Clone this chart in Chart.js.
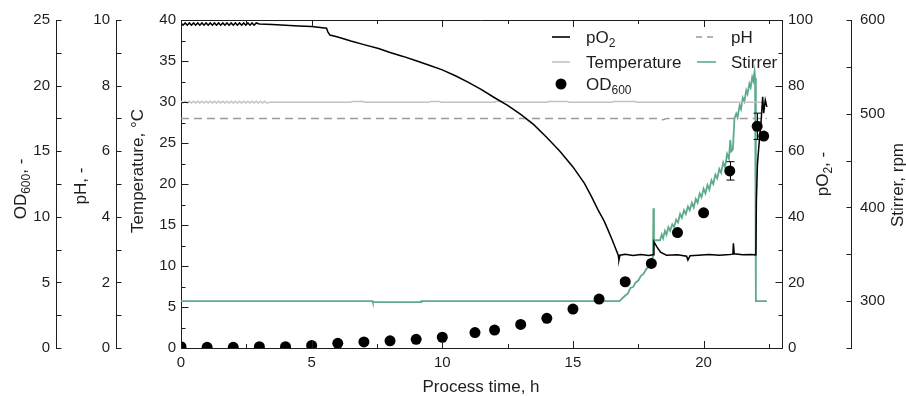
<!DOCTYPE html>
<html>
<head>
<meta charset="utf-8">
<title>Batch fermentation – online signals</title>
<script src="https://cdn.jsdelivr.net/npm/chart.js@4.4.1/dist/chart.umd.min.js"></script>
<style>
  html, body { margin: 0; padding: 0; background: #fff; }
  #chart { display: block; }
</style>
</head>
<body>
<canvas id="chart" width="906" height="396"></canvas>
<script>
// offline samples: OD600 with standard deviation
var odTime  = [0, 1, 2, 3, 4, 5, 6, 7, 8, 9, 10, 11.25, 12, 13, 14, 15, 16, 17, 18, 19, 20, 21, 22.05, 22.3];
var odValue = [0.1, 0.05, 0.05, 0.1, 0.1, 0.2, 0.36, 0.46, 0.55, 0.66, 0.82, 1.18, 1.37, 1.8, 2.26, 2.97, 3.73, 5.05, 6.45, 8.8, 10.3, 13.5, 16.9, 16.15];
var odError = [0, 0, 0, 0, 0, 0, 0, 0, 0, 0, 0, 0, 0, 0, 0, 0, 0, 0, 0, 0, 0, 0.7, 1.0, 0];

// dissolved oxygen, %
var pO2Time = [
  0, 0.08, 0.16, 0.24, 0.32, 0.40, 0.48, 0.56, 0.64, 0.72,
  0.80, 0.88, 0.96, 1.04, 1.12, 1.20, 1.28, 1.36, 1.44, 1.52,
  1.60, 1.68, 1.76, 1.84, 1.92, 2.00, 2.08, 2.16, 2.24, 2.32,
  2.40, 2.48, 2.56, 2.64, 2.72, 2.80, 2.88,
  3.0, 3.5, 4.0, 4.5, 5.0, 5.57, 5.62, 5.7, 6.0, 6.5,
  7.0, 7.56, 8.0, 8.5, 9.0, 9.5, 10.0, 10.5, 11.0, 11.5,
  12.0, 12.5, 13.0, 13.5, 14.0, 14.5, 15.0, 15.44, 15.7, 15.96,
  16.2, 16.34, 16.5, 16.73, 16.76, 16.8, 17.0, 17.3, 17.6, 17.9,
  18.07, 18.1, 18.2, 18.35, 18.58, 19.0, 19.35, 19.4, 19.48, 19.8,
  20.2, 20.6, 21.0, 21.12, 21.14, 21.17, 21.5, 21.8, 22.0, 22.02,
  22.06, 22.12, 22.2, 22.26, 22.3, 22.36, 22.42
];
var pO2Value = [
  99.1, 98.4, 99.1, 98.4, 99.1, 98.4, 99.1, 98.4, 99.1, 98.4,
  99.1, 98.4, 99.1, 98.4, 99.1, 98.4, 99.1, 98.4, 99.1, 98.4,
  99.1, 98.4, 99.1, 98.4, 99.1, 98.4, 99.1, 98.4, 99.1, 98.4,
  99.1, 98.4, 99.1, 98.4, 99.1, 98.4, 99.1,
  98.8, 98.6, 98.4, 98.2, 98.0, 97.5, 96.4, 95.4, 94.8, 93.6,
  92.5, 91.3, 90.1, 88.9, 87.6, 86.2, 84.8, 83.0, 81.0, 78.8,
  76.3, 74.0, 71.2, 68.1, 64.2, 60.0, 55.2, 50.2, 46.3, 42.1,
  38.6, 36.0, 33.0, 28.4, 26.8, 28.3, 28.6, 28.2, 28.5, 28.2,
  28.4, 32.4, 31.0, 29.2, 28.3, 28.4, 28.0, 26.8, 28.1, 28.3,
  28.5, 28.3, 28.5, 28.6, 31.9, 28.7, 28.4, 28.5, 28.4, 45,
  56, 62, 69, 76.6, 71.6, 75.6, 73.5
];

// temperature, °C
var tempTime = [
  0, 0.08, 0.16, 0.24, 0.32, 0.40, 0.48, 0.56, 0.64, 0.72,
  0.80, 0.88, 0.96, 1.04, 1.12, 1.20, 1.28, 1.36, 1.44, 1.52,
  1.60, 1.68, 1.76, 1.84, 1.92, 2.00, 2.08, 2.16, 2.24, 2.32,
  2.40, 2.48, 2.56, 2.64, 2.72, 2.80, 2.88, 2.96, 3.04, 3.12,
  3.20, 3.28,
  3.4, 6.5, 6.55, 7.0, 7.05, 9.5, 9.55, 9.9, 9.95, 12.0,
  12.05, 12.5, 12.55, 14.0, 14.05, 14.8, 14.85, 16.5, 16.55, 17.4,
  17.45, 22.42
];
var tempValue = [
  30.1, 29.88, 30.1, 29.88, 30.1, 29.88, 30.1, 29.88, 30.1, 29.88,
  30.1, 29.88, 30.1, 29.88, 30.1, 29.88, 30.1, 29.88, 30.1, 29.88,
  30.1, 29.88, 30.1, 29.88, 30.1, 29.88, 30.1, 29.88, 30.1, 29.88,
  30.1, 29.88, 30.1, 29.88, 30.1, 29.88, 30.1, 29.88, 30.1, 29.88,
  30.1, 29.88,
  29.97, 29.97, 30.05, 30.05, 29.97, 29.97, 30.07, 30.07, 29.97, 29.97,
  30.06, 30.06, 29.97, 29.97, 30.05, 30.05, 29.97, 29.97, 30.05, 30.05,
  29.97, 29.97
];

// pH
var pHTime  = [0, 18.2, 18.3, 18.45, 18.6, 22.42];
var pHValue = [7.0, 7.0, 6.97, 6.96, 7.0, 7.0];

// stirrer speed, rpm
var stirTime = [
  0, 7.33, 7.34, 9.19, 9.2, 16.78, 17.0, 17.1, 17.2, 17.3,
  17.4, 17.5, 17.6, 17.7, 17.8, 17.9, 18.0, 18.06, 18.08, 18.1,
  18.33, 18.4, 18.45, 18.52, 18.58, 18.65, 18.72, 18.8, 18.87, 18.95,
  19.02, 19.1, 19.17, 19.25, 19.32, 19.4, 19.47, 19.55, 19.62, 19.7,
  19.77, 19.85, 19.92, 20.0, 20.07, 20.15, 20.22, 20.3, 20.37, 20.45,
  20.52, 20.6, 20.67, 20.75, 20.82, 20.9, 20.97, 21.02, 21.06, 21.12,
  21.18, 21.25, 21.3, 21.38, 21.43, 21.5, 21.56, 21.63, 21.68, 21.75,
  21.8, 21.86, 21.9, 21.95, 21.97, 22.0, 22.42
];
var stirValue = [
  300, 300, 299, 299, 300, 300, 306, 308, 314, 315,
  320, 322, 327, 329, 334, 337, 343, 347, 399, 365,
  365, 371, 367, 375, 371, 379, 375, 382, 379, 387,
  384, 393, 389, 397, 393, 401, 397, 405, 400, 409,
  405, 415, 411, 420, 415, 424, 419, 429, 425, 435,
  431, 441, 437, 448, 443, 457, 452, 472, 460, 462,
  495, 500, 496, 509, 505, 517, 513, 525, 521, 532,
  528, 539, 535, 545, 538, 300, 300
];

// axis ranges and tick steps
var xRange = [0, 23],      xMinor = 2.5, xMajor = 5;
var tempRange = [0, 40],   tempMinor = 2.5, tempMajor = 5;
var odRange = [0, 25],     odMinor = 2.5, odMajor = 5;
var pHRange = [0, 10],     pHMinor = 1, pHMajor = 2;
var pO2Range = [0, 100],   pO2Minor = 10, pO2Major = 20;
var stirRange = [250, 600], stirMinor = 50, stirMajor = 100;

var INK = '#1e1e1e';
var FONT = '"Liberation Sans", Arial, sans-serif';
var GREEN = '#5dab8a';
var LIGHT = '#c2c2c2';
var DASHED = '#9a9a9a';

function pairs(xs, ys) {
  return xs.map(function (x, i) { return { x: x, y: ys[i] }; });
}

function onStep(v, step) {
  var q = v / step;
  return Math.abs(q - Math.round(q)) < 1e-6;
}

function yScale(pos, weight, range, minor, major, width, pad) {
  return {
    type: 'linear',
    position: pos,
    weight: weight,
    min: range[0],
    max: range[1],
    grid: { drawOnChartArea: false, drawTicks: false },
    border: { display: true, color: INK, width: 1 },
    ticks: {
      stepSize: minor,
      autoSkip: false,
      padding: pad,
      color: INK,
      font: { family: FONT, size: 15 },
      callback: function (v) { return onStep(v, major) ? String(v) : ''; }
    },
    afterFit: function (s) { s.width = width; }
  };
}

// tick marks point into the plot, major ones a bit longer
var tickSpec = {
  x:   { major: xMajor,    dir: -1, long: 7, short: 4 },
  yT:  { major: tempMajor, dir: 1,  long: 7, short: 4 },
  yOD: { major: odMajor,   dir: 1,  long: 5, short: 5 },
  yPH: { major: pHMajor,   dir: 1,  long: 5, short: 5 },
  yO2: { major: pO2Major,  dir: -1, long: 7, short: 4 },
  yS:  { major: stirMajor, dir: -1, long: 5, short: 5 }
};

function richText(ctx, parts, x, y, angle, align) {
  ctx.save();
  ctx.translate(x, y);
  ctx.rotate(angle);
  var widths = parts.map(function (p) {
    ctx.font = (p.sub ? 12 : 17) + 'px ' + FONT;
    return ctx.measureText(p.text).width;
  });
  var total = widths.reduce(function (a, b) { return a + b; }, 0);
  var cx = align === 'center' ? -total / 2 : 0;
  ctx.fillStyle = INK;
  ctx.textAlign = 'left';
  ctx.textBaseline = 'alphabetic';
  parts.forEach(function (p, i) {
    ctx.font = (p.sub ? 12 : 17) + 'px ' + FONT;
    ctx.fillText(p.text, cx, p.sub ? 10 : 6);
    cx += widths[i];
  });
  ctx.restore();
}

var framePlugin = {
  id: 'frame',
  afterDatasetsDraw: function (chart) {
    var ctx = chart.ctx;
    var xs = chart.scales.x, ys = chart.scales.yOD;
    // OD error bars
    ctx.save();
    ctx.strokeStyle = '#000';
    ctx.lineWidth = 1;
    odTime.forEach(function (t, i) {
      if (!odError[i]) return;
      var px = Math.round(xs.getPixelForValue(t)) + 0.5;
      var top = ys.getPixelForValue(odValue[i] + odError[i]);
      var bot = ys.getPixelForValue(odValue[i] - odError[i]);
      ctx.beginPath();
      ctx.moveTo(px, top); ctx.lineTo(px, bot);
      ctx.moveTo(px - 4, top); ctx.lineTo(px + 4, top);
      ctx.moveTo(px - 4, bot); ctx.lineTo(px + 4, bot);
      ctx.stroke();
    });
    ctx.restore();
  },
  afterDraw: function (chart) {
    var ctx = chart.ctx, area = chart.chartArea;
    ctx.save();
    ctx.strokeStyle = INK;
    ctx.lineWidth = 1;
    ctx.beginPath();
    // top edge of the frame
    var topY = Math.round(area.top) + 0.5;
    ctx.moveTo(area.left, topY);
    ctx.lineTo(area.right, topY);
    Object.keys(tickSpec).forEach(function (id) {
      var sc = chart.scales[id], spec = tickSpec[id];
      sc.ticks.forEach(function (tk) {
        var len = onStep(tk.value, spec.major) ? spec.long : spec.short;
        var p = Math.round(sc.getPixelForValue(tk.value)) + 0.5;
        if (id === 'x') {
          ctx.moveTo(p, sc.top); ctx.lineTo(p, sc.top - len);
          ctx.moveTo(p, area.top); ctx.lineTo(p, area.top + len);
        } else {
          var x0 = Math.round(sc.position === 'left' ? sc.right : sc.left) + 0.5;
          ctx.moveTo(x0, p); ctx.lineTo(x0 + spec.dir * len, p);
        }
      });
    });
    ctx.stroke();

    // axis titles
    var up = -Math.PI / 2;
    richText(ctx, [{ text: 'OD' }, { text: '600', sub: true }, { text: ', -' }], 20, 189, up, 'center');
    richText(ctx, [{ text: 'pH, -' }], 80, 186, up, 'center');
    richText(ctx, [{ text: 'Temperature, °C' }], 137, 171, up, 'center');
    richText(ctx, [{ text: 'pO' }, { text: '2', sub: true }, { text: ', -' }], 822, 174, up, 'center');
    richText(ctx, [{ text: 'Stirrer, rpm' }], 897, 185, up, 'center');
    richText(ctx, [{ text: 'Process time, h' }], 481, 386, 0, 'center');

    // legend
    function sample(x1, x2, y, color, dash) {
      ctx.save();
      ctx.strokeStyle = color;
      ctx.lineWidth = 1.6;
      ctx.setLineDash(dash || []);
      ctx.beginPath();
      ctx.moveTo(x1, y); ctx.lineTo(x2, y);
      ctx.stroke();
      ctx.restore();
    }
    sample(552, 570, 37, '#000');
    richText(ctx, [{ text: 'pO' }, { text: '2', sub: true }], 586, 37, 0, 'left');
    sample(696, 717, 37, DASHED, [6, 5]);
    richText(ctx, [{ text: 'pH' }], 731, 37, 0, 'left');
    sample(552, 570, 62, LIGHT);
    richText(ctx, [{ text: 'Temperature' }], 586, 62, 0, 'left');
    sample(697, 716, 62, GREEN);
    richText(ctx, [{ text: 'Stirrer' }], 731, 62, 0, 'left');
    ctx.fillStyle = '#000';
    ctx.beginPath();
    ctx.arc(561, 84, 5.5, 0, Math.PI * 2);
    ctx.fill();
    richText(ctx, [{ text: 'OD' }, { text: '600', sub: true }], 586, 84, 0, 'left');
    ctx.restore();
  }
};

var ctx = document.getElementById('chart').getContext('2d');
new Chart(ctx, {
  type: 'line',
  data: {
    datasets: [
      {
        label: 'OD600',
        data: pairs(odTime, odValue),
        yAxisID: 'yOD',
        showLine: false,
        pointRadius: 5.5,
        pointBackgroundColor: '#000',
        pointBorderWidth: 0
      },
      {
        label: 'pO2',
        data: pairs(pO2Time, pO2Value),
        yAxisID: 'yO2',
        borderColor: '#000',
        borderWidth: 1.5,
        pointRadius: 0
      },
      {
        label: 'pH',
        data: pairs(pHTime, pHValue),
        yAxisID: 'yPH',
        borderColor: DASHED,
        borderWidth: 1.5,
        borderDash: [8, 5],
        pointRadius: 0
      },
      {
        label: 'Temperature',
        data: pairs(tempTime, tempValue),
        yAxisID: 'yT',
        borderColor: LIGHT,
        borderWidth: 1.5,
        pointRadius: 0
      },
      {
        label: 'Stirrer',
        data: pairs(stirTime, stirValue),
        yAxisID: 'yS',
        borderColor: GREEN,
        borderWidth: 1.8,
        pointRadius: 0
      }
    ]
  },
  options: {
    responsive: false,
    animation: false,
    devicePixelRatio: 1,
    layout: { padding: { top: 20, right: 0, bottom: 0, left: 0 } },
    plugins: { legend: { display: false }, tooltip: { enabled: false } },
    scales: {
      x: {
        type: 'linear',
        position: 'bottom',
        min: xRange[0],
        max: xRange[1],
        grid: { drawOnChartArea: false, drawTicks: false },
        border: { display: true, color: INK, width: 1 },
        ticks: {
          stepSize: xMinor,
          includeBounds: false,
          autoSkip: false,
          maxRotation: 0,
          padding: 6,
          color: INK,
          font: { family: FONT, size: 15 },
          callback: function (v) { return onStep(v, xMajor) ? String(v) : ''; }
        },
        afterFit: function (s) { s.height = 48; }
      },
      yOD: yScale('left', 2, odRange, odMinor, odMajor, 56, 6),
      yPH: yScale('left', 1, pHRange, pHMinor, pHMajor, 60, 6),
      yT:  yScale('left', 0, tempRange, tempMinor, tempMajor, 65, 5),
      yO2: yScale('right', 0, pO2Range, pO2Minor, pO2Major, 69, 6),
      yS:  yScale('right', 1, stirRange, stirMinor, stirMajor, 55, 9)
    }
  },
  plugins: [framePlugin]
});
</script>
</body>
</html>
